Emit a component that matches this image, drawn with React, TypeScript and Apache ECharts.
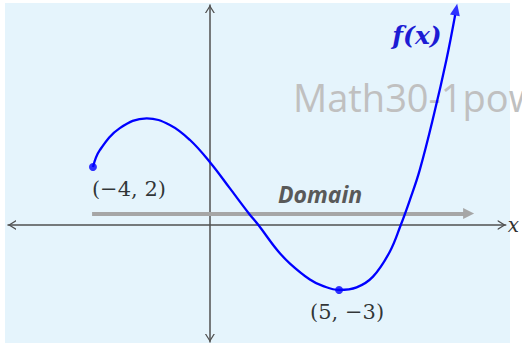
import React, { useEffect, useRef } from "react";
import * as echarts from "echarts";

// Curve f(x) (schematic units, origin at the axes' crossing)
const curveX = [-4.0, -3.76, -3.08, -2.16, -1.37, -0.68, 0.03, 0.68, 1.34, 1.66, 2.3, 2.74, 3.42, 3.86, 4.42, 5.02, 5.58, 6.15, 6.53, 6.84, 7.18, 7.66, 8.09, 8.39];
const curveY = [2.0, 2.59, 3.34, 3.68, 3.45, 2.93, 2.13, 1.27, 0.39, 0, -0.86, -1.33, -1.88, -2.1, -2.24, -2.15, -1.78, -0.93, 0, 0.86, 1.9, 3.79, 5.69, 7.24];
const arrowHead = [8.42, 7.43];

// Marked points and their labels
const keyPointsX = [-4.0, 4.42];
const keyPointsY = [2.0, -2.24];
const keyPointLabels = ["(−4, 2)", "(5, −3)"];

// Domain arrow
const domainStart = [-4.03, 0.4];
const domainEnd = [8.85, 0.4];
const domainLabel = "Domain";
const functionLabel = "f(x)";
const axisName = "x";
const watermark = "Math30-1pow";

// Axis extents
const X_MIN = -6.906;
const X_MAX = 10.12;
const Y_MIN = -4.034;
const Y_MAX = 7.586;

const CHEVRON = "path://M0,8 L5,0 L10,8 L8.6,8 L5,2.3 L1.4,8 Z";

export default function App() {
  const ref = useRef<HTMLDivElement>(null);
  useEffect(() => {
    if (!ref.current) return;
    const chart = echarts.init(ref.current, null, { renderer: "svg" });
    const axisLine = {
      show: true,
      onZero: true,
      symbol: [CHEVRON, CHEVRON],
      symbolSize: [10, 8],
      symbolOffset: [4, -4],
      lineStyle: { color: "#505050", width: 1.5 },
    };
    chart.setOption({
      animation: false,
      backgroundColor: "#ffffff",
      grid: { left: 8, top: 5, width: 498, height: 337, containLabel: false },
      xAxis: {
        type: "value",
        min: X_MIN,
        max: X_MAX,
        axisLine,
        axisTick: { show: false },
        axisLabel: { show: false },
        splitLine: { show: false },
        name: axisName,
        nameLocation: "end",
        nameGap: 2,
        nameTextStyle: {
          fontFamily: "DejaVu Serif",
          fontStyle: "italic",
          fontSize: 20,
          color: "#333333",
        },
      },
      yAxis: {
        type: "value",
        min: Y_MIN,
        max: Y_MAX,
        axisLine,
        axisTick: { show: false },
        axisLabel: { show: false },
        splitLine: { show: false },
      },
      graphic: [
        {
          type: "rect",
          z: -10,
          shape: { x: 5, y: 3, width: 505, height: 340 },
          style: { fill: "#e5f4fc" },
        },
        {
          type: "text",
          z: 1,
          x: 293,
          y: 97,
          style: {
            text: watermark,
            fontFamily: "Open Sans",
            fontSize: 38,
            fill: "#c0c0c0",
            textAlign: "left",
            textVerticalAlign: "middle",
          },
        },
        {
          type: "text",
          z: 20,
          x: 320,
          y: 194,
          style: {
            text: domainLabel,
            fontFamily: "Open Sans",
            fontWeight: "bold",
            fontStyle: "italic",
            fontSize: 23,
            fill: "#595959",
            textAlign: "center",
            textVerticalAlign: "middle",
          },
        },
        {
          type: "text",
          z: 20,
          x: 417,
          y: 35,
          style: {
            text: functionLabel,
            fontFamily: "DejaVu Serif",
            fontWeight: "bold",
            fontStyle: "italic",
            fontSize: 25,
            fill: "#1c1cd4",
            textAlign: "center",
            textVerticalAlign: "middle",
          },
        },
      ],
      series: [
        {
          type: "lines",
          coordinateSystem: "cartesian2d",
          z: 2,
          symbol: ["none", "triangle"],
          symbolSize: 11,
          lineStyle: { color: "#a6a6a6", width: 4, opacity: 1 },
          data: [{ coords: [domainStart, domainEnd] }],
          silent: true,
        },
        {
          type: "line",
          z: 3,
          smooth: 0.4,
          showSymbol: false,
          clip: false,
          lineStyle: { color: "#0000ff", width: 2.3 },
          data: curveX.map((x, i) => [x, curveY[i]]),
          silent: true,
        },
        {
          type: "scatter",
          z: 3,
          clip: false,
          symbol: "triangle",
          symbolSize: [10, 12],
          symbolRotate: -11,
          itemStyle: { color: "#0000ff" },
          data: [arrowHead],
          silent: true,
        },
        {
          type: "scatter",
          z: 4,
          clip: false,
          symbolSize: 8,
          itemStyle: { color: "#0000ff" },
          data: keyPointsX.map((x, i) => ({
            value: [x, keyPointsY[i]],
            label: {
              show: true,
              position: "inside",
              offset: i === 0 ? [36, 22] : [8, 22],
              formatter: keyPointLabels[i],
              fontFamily: "DejaVu Serif",
              fontSize: 21,
              color: "#000000",
            },
          })),
          silent: true,
        },
      ],
    });
    return () => chart.dispose();
  }, []);
  return (
    <div
      ref={ref}
      style={{ position: "fixed", left: 0, top: 0, width: 522, height: 343 }}
    />
  );
}
